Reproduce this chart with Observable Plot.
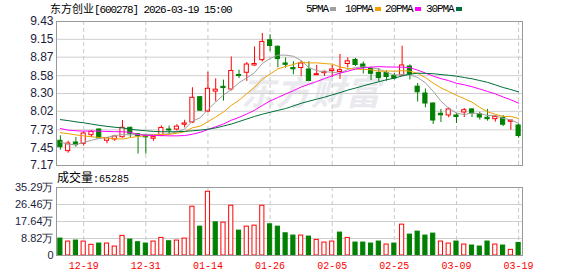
<!DOCTYPE html>
<html><head><meta charset="utf-8">
<script src="https://cdn.jsdelivr.net/npm/d3@7"></script>
<script src="https://cdn.jsdelivr.net/npm/@observablehq/plot@0.6"></script>
<style>
html,body{margin:0;padding:0;background:#fff;}
body{width:578px;height:276px;overflow:hidden;position:relative;font-family:"Liberation Sans",Arial,sans-serif;}
.abs{position:absolute;line-height:1;white-space:nowrap;}
.cjk{font-family:"Noto Sans CJK SC","Noto Sans",sans-serif;}
.mono{font-family:"Liberation Mono","DejaVu Sans Mono",monospace;}
#wm{left:241px;top:74px;font-family:"Noto Sans CJK SC",sans-serif;font-size:34px;font-weight:bold;font-style:italic;color:#e9e9ee;letter-spacing:1px;}
.sq{position:absolute;width:6px;height:4px;top:7px;}
svg{position:absolute;left:0;}
</style></head><body>
<div id="wm" class="abs">东方财富</div>
<div class="abs" style="left:50px;top:3px;font-size:11px;color:#000;">
  <span class="cjk">东方创业</span><span class="mono" style="letter-spacing:-1.1px">[600278] 2026-03-19 15:00</span>
</div>
<div id="legend"></div>
<div id="price"></div>
<div id="vollabel" class="abs" style="left:57px;top:171px;font-size:12px;color:#000;"></div>
<div id="volume"></div>
<script>
// ---- data ----
const dates = ["12-16","12-17","12-18","12-19","12-22","12-23","12-24","12-25","12-26","12-29","12-30","12-31",
"01-05","01-06","01-07","01-08","01-09","01-12","01-13","01-14","01-15","01-16","01-19","01-20","01-21","01-22","01-23","01-26","01-27","01-28","01-29","01-30",
"02-02","02-03","02-04","02-05","02-06","02-09","02-10","02-11","02-12","02-13","02-24","02-25","02-26","02-27",
"03-02","03-03","03-04","03-05","03-06","03-09","03-10","03-11","03-12","03-13","03-16","03-17","03-18","03-19"];
const open  = [7.558,7.395,7.531,7.511,7.646,7.735,7.558,7.578,7.614,7.762,7.66,7.64,7.59,7.64,7.735,7.735,7.81,7.845,8.242,8.018,
8.33,8.405,8.363,8.59,8.625,8.74,8.823,9.135,9.033,8.771,8.70,8.70,8.677,8.587,8.619,8.653,8.638,8.763,8.826,8.755,
8.685,8.622,8.622,8.575,8.583,8.724,8.407,8.30,8.143,7.982,7.955,7.955,8.002,8.05,7.974,7.92,7.897,7.919,7.856,7.798];
const high  = [7.636,7.552,7.61,7.699,7.715,7.745,7.61,7.645,7.876,7.77,7.67,7.645,7.625,7.79,7.79,7.81,7.88,8.39,8.25,8.634,
8.53,8.51,8.873,8.666,8.787,9.03,9.242,9.22,9.05,8.857,8.80,8.813,8.80,8.74,8.653,8.74,8.912,8.86,8.85,8.794,
8.716,8.692,8.653,8.614,9.042,8.75,8.457,8.371,8.15,8.05,8.076,7.986,8.065,8.06,8.005,8.05,7.955,7.955,7.876,7.825];
const low   = [7.41,7.363,7.457,7.473,7.61,7.59,7.511,7.55,7.599,7.605,7.35,7.35,7.55,7.62,7.65,7.71,7.76,7.83,8.02,8.0,
8.17,8.18,8.34,8.535,8.49,8.724,8.797,8.96,8.703,8.697,8.594,8.567,8.488,8.583,8.567,8.551,8.52,8.70,8.724,8.606,
8.504,8.48,8.493,8.512,8.567,8.512,8.167,8.076,7.814,7.845,7.919,7.829,7.923,7.923,7.884,7.866,7.85,7.779,7.724,7.597];
const close = [7.458,7.515,7.489,7.672,7.699,7.595,7.60,7.625,7.762,7.668,7.63,7.612,7.615,7.76,7.72,7.78,7.83,8.233,8.03,8.374,
8.36,8.385,8.653,8.575,8.755,8.763,9.11,9.045,8.84,8.75,8.68,8.771,8.496,8.603,8.64,8.677,8.666,8.805,8.747,8.703,
8.609,8.543,8.559,8.536,8.74,8.598,8.319,8.143,7.876,7.958,8.05,7.931,8.038,7.986,7.923,7.897,7.934,7.81,7.876,7.633];
// volume in 万 (10k)
const volume = [8.78,7.23,7.75,7.23,5.53,6.2,6.2,4.65,10.18,8.27,6.89,6.2,7.23,9.13,7.4,7.75,8.78,25.32,14.98,33.07,
17.2,17.05,25.83,12.92,14.98,15.5,25.83,16.18,14.98,11.52,10.34,10.34,9.82,8.1,6.72,7.24,11.89,9.13,6.72,6.72,
6.2,7.24,5.68,6.2,16.02,10.85,12.4,10.34,11.37,7.24,6.2,7.24,5.68,5.17,4.65,7.24,5.68,5.17,2.93,6.5285];
const ma5Early  = [7.54,7.50,7.50,7.53];
const ma10Early = [7.685,7.67,7.65,7.635,7.62,7.61,7.60,7.59,7.585];
const ma20Early = [7.75,7.725,7.715,7.71,7.71,7.71,7.705,7.70,7.70,7.69,7.655,7.645,7.64,7.64,7.635,7.635,7.64,7.66,7.69];
const ma30Early = [7.89,7.875,7.855,7.84,7.82,7.80,7.785,7.77,7.76,7.74,7.725,7.715,7.705,7.70,7.70,7.70,7.705,7.715,7.725,7.74,
7.76,7.79,7.82,7.86,7.90,7.94,7.975,8.005,8.035];
const maNames = ["5PMA","10PMA","20PMA","30PMA"];
const maColors = ["#a0a0a0","#f0a000","#ff00ff","#00703a"];
const priceTicks = [9.43,9.15,8.87,8.58,8.30,8.02,7.73,7.45,7.17];
const volTicks = [0,8.82,17.64,26.46,35.29];
const dateTicks = ["12-19","12-31","01-14","01-26","02-05","02-25","03-09","03-19"];

// ---- build ----
const RED = "#ff0000", GREEN = "#008000";
const rows = dates.map((d,i)=>({d, o:open[i], h:high[i], l:low[i], c:close[i], v:volume[i],
  up: close[i] >= open[i],
  vup: i===0 ? close[i] >= open[i] : close[i] >= close[i-1]}));
function ma(n, early){ return close.map((c,i)=> i>=n-1 ? d3.mean(close.slice(i-n+1,i+1)) : early[i]); }
const maSeries = [ma(5,ma5Early), ma(10,ma10Early), ma(20,ma20Early), ma(30,ma30Early)];

// legend
const leg = document.getElementById("legend");
const legX = [306,345,385,426];
maNames.forEach((n,k)=>{
  const t = document.createElement("div");
  t.className = "abs mono";
  t.style.cssText = `left:${legX[k]}px;top:4px;font-size:11px;letter-spacing:-1.1px;color:#000;`;
  t.textContent = n;
  leg.appendChild(t);
  const s = document.createElement("div");
  s.className = "sq";
  s.style.left = (legX[k] + n.length*5.5 + 2) + "px";
  s.style.background = maColors[k];
  leg.appendChild(s);
});

const common = {width:578, marginLeft:56, marginRight:56,
  x:{type:"band", domain:dates, padding:0, axis:null, label:null},
  color:{type:"identity"},
  style:{background:"transparent", overflow:"visible", fontFamily:"Liberation Sans, Arial, sans-serif"}};

const maMarks = maSeries.map((s,k)=> Plot.line(dates.map((d,i)=>({d, v:s[i]})), {x:"d", y:"v", stroke:maColors[k], strokeWidth:1}));

const price = Plot.plot({
  ...common,
  height:168, marginTop:21, marginBottom:3,
  y:{domain:[7.17,9.43], axis:null},
  marks:[
    Plot.gridY(priceTicks, {stroke:"#cfcfcf", strokeOpacity:1}),
    Plot.ruleX(dateTicks, {stroke:"#c8c8c8", strokeDasharray:"4,3"}),
    Plot.axisY(priceTicks, {tickSize:0, tickPadding:3, tickFormat:d3.format(".2f"), fontSize:12, fill:"#1c1c3c", label:null}),
    Plot.ruleX(rows, {x:"d", y1:"l", y2:"h", stroke:d=>d.up?RED:GREEN, strokeWidth:1}),
    Plot.barY(rows, {x:"d", y1:"o", y2:"c", fill:d=>d.up?"#fff":GREEN, stroke:d=>d.up?RED:GREEN, strokeWidth:1, insetLeft:1.8, insetRight:1.8}),
    ...maMarks,
    Plot.frame({stroke:"#999"})
  ]
});
price.style.top = "0px";
document.getElementById("price").appendChild(price);

document.getElementById("vollabel").innerHTML =
  `<span class="cjk">成交量</span><span class="mono" style="font-size:10px">:${Math.round(volume[volume.length-1]*10000)}</span>`;

const vol = Plot.plot({
  ...common,
  height:104, marginTop:15, marginBottom:21,
  y:{domain:[0,35.29], axis:null},
  marks:[
    Plot.gridY(volTicks, {stroke:"#cfcfcf", strokeOpacity:1}),
    Plot.ruleX(dateTicks, {stroke:"#c8c8c8", strokeDasharray:"4,3"}),
    Plot.barY(rows, {x:"d", y:"v", fill:d=>d.vup?"#fff":GREEN, stroke:d=>d.vup?RED:GREEN, strokeWidth:1, insetLeft:1.8, insetRight:1.8}),
    Plot.axisY(volTicks, {tickSize:0, tickPadding:3, tickFormat:d=> d===0 ? "0" : d.toFixed(2)+"万", fontSize:11, fill:"#1c1c3c", label:null, style:"letter-spacing:-0.5px"}),
    Plot.axisX(dateTicks, {tickSize:0, tickPadding:6, fill:RED, fontSize:10, fontFamily:"Liberation Mono, monospace", label:null}),
    Plot.frame({stroke:"#999"})
  ]
});
vol.style.top = "172px";
document.getElementById("volume").appendChild(vol);
</script>
</body></html>
